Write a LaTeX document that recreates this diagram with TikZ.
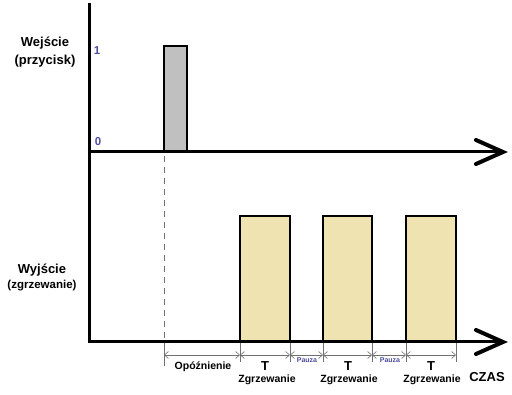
\documentclass[tikz,border=0pt]{standalone}
\usepackage{fontspec}
\setmainfont{Liberation Sans}
\usetikzlibrary{arrows.meta}
\definecolor{pgray}{HTML}{C0C0C0}
\definecolor{pyel}{HTML}{EFE3B2}
\definecolor{pblue}{HTML}{4E4E9E}
\definecolor{dimgray}{HTML}{707070}
\tikzset{
  axis/.style={line width=3pt},
  axhead/.style={line width=4pt, line cap=round},
  pulse/.style={draw=black, line width=1.6pt},
  dimline/.style={draw=dimgray, line width=0.6pt, {Straight Barb[length=4pt,width=7pt]}-{Straight Barb[length=4pt,width=7pt]}},
  dimtick/.style={draw=dimgray, line width=0.6pt},
  lab/.style={font=\bfseries\fontsize{13}{15}\selectfont, inner sep=0pt},
  sublab/.style={font=\bfseries\fontsize{11.5}{13}\selectfont, inner sep=0pt},
  lvl/.style={font=\bfseries\fontsize{11.5}{13}\selectfont, text=pblue, inner sep=0pt},
  dimtxt/.style={font=\bfseries\fontsize{10.5}{12}\selectfont, inner sep=0pt},
  ttxt/.style={font=\bfseries\fontsize{13}{15}\selectfont, inner sep=0pt},
  pauza/.style={font=\bfseries\fontsize{7}{8}\selectfont, text=pblue, inner sep=0pt},
}
\begin{document}
\begin{tikzpicture}[x=1pt,y=-1pt]
\useasboundingbox (0,0) rectangle (512,395);
% coordinates
\coordinate (ytop) at (89,3);
\coordinate (o1) at (89,152);
\coordinate (o2) at (89,342);
\coordinate (e1) at (503,152);
\coordinate (e2) at (503,342);
% dashed delay line
\draw[dimgray, line width=1pt, dash pattern=on 6pt off 5pt] (164,156) -- (164,342);
% pulses
\filldraw[pulse, fill=pgray] (164,152) rectangle (187,46);
\filldraw[pulse, fill=pyel] (240,342) rectangle (290,216);
\filldraw[pulse, fill=pyel] (323,342) rectangle (372,216);
\filldraw[pulse, fill=pyel] (406,342) rectangle (456,216);
% axes
\draw[axis] (ytop) -- (89,343.5);
\draw[axis] (87.5,152) -- (e1);
\draw[axis] (87.5,342) -- (e2);
\draw[axhead] (476,140) -- (e1) -- (476,164);
\draw[axhead] (476,330) -- (e2) -- (476,354);
% dimension ticks
\coordinate (t0) at (164,355);
\coordinate (t1) at (240,355);
\coordinate (t2) at (290,355);
\coordinate (t3) at (323,355);
\coordinate (t4) at (372,355);
\coordinate (t5) at (406,355);
\coordinate (t6) at (456,355);
\draw[dimtick] (164,343) -- (164,366);
\foreach \x in {240,290,323,372,406,456}{\draw[dimtick] (\x,343) -- (\x,362);}
\draw[dimline] (t0) -- (t1);
\draw[dimline] (t1) -- (t2);
\draw[dimline] (t2) -- (t3);
\draw[dimline] (t3) -- (t4);
\draw[dimline] (t4) -- (t5);
\draw[dimline] (t5) -- (t6);
% labels
\node[lab] (win) at (45,43) {Wejście};
\node[lab] (winp) at (45,61) {(przycisk)};
\node[lab] (wout) at (42,270) {Wyjście};
\node[sublab] (woutp) at (42,286) {(zgrzewanie)};
\node[lvl] (one) at (97,51) {1};
\node[lvl] (zero) at (98,142) {0};
\node[dimtxt] (delay) at (203,367) {Opóźnienie};
\node[ttxt] (T1) at (265,366) {T};
\node[ttxt] (T2) at (348,366) {T};
\node[ttxt] (T3) at (431,366) {T};
\node[dimtxt] (z1) at (267,380) {Zgrzewanie};
\node[dimtxt] (z2) at (349,380) {Zgrzewanie};
\node[dimtxt] (z3) at (432,380) {Zgrzewanie};
\node[pauza] (p1) at (307,360) {Pauza};
\node[pauza] (p2) at (390,360) {Pauza};
\node[ttxt] (czas) at (487,377) {CZAS};
\end{tikzpicture}
\end{document}
